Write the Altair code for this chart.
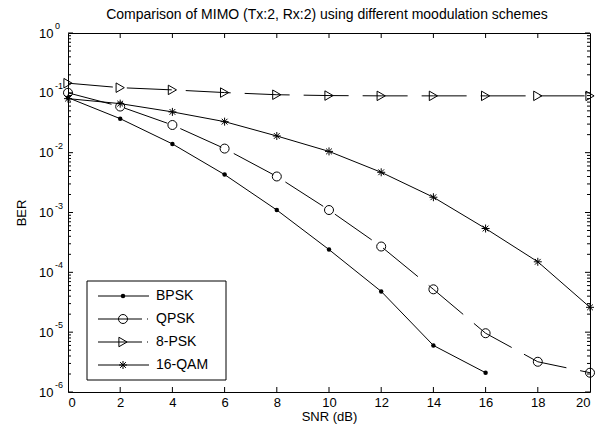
import altair as alt
import pandas as pd

# ---------------- data ----------------
snr = [0, 2, 4, 6, 8, 10, 12, 14, 16, 18, 20]
bpsk = [0.083, 0.037, 0.014, 0.0043, 0.0011, 2.4e-4, 4.8e-5, 6.0e-6, 2.1e-6]
qpsk = [0.10, 0.059, 0.029, 0.0117, 0.0040, 0.0011, 2.7e-4, 5.2e-5, 9.6e-6, 3.2e-6, 2.1e-6]
psk8 = [0.145, 0.122, 0.112, 0.101, 0.093, 0.090, 0.089, 0.089, 0.089, 0.089, 0.089]
qam16 = [0.080, 0.066, 0.048, 0.033, 0.019, 0.0105, 0.0047, 0.0018, 5.4e-4, 1.5e-4, 2.6e-5]

series_names = ["BPSK", "QPSK", "8-PSK", "16-QAM"]
series_values = [bpsk, qpsk, psk8, qam16]

y_major = [1e-6, 1e-5, 1e-4, 1e-3, 1e-2, 1e-1, 1]
y_exponents = ["-6", "-5", "-4", "-3", "-2", "-1", "0"]
y_minor = [k * m for m in [1e-6, 1e-5, 1e-4, 1e-3, 1e-2, 1e-1] for k in range(2, 10)]
x_ticks = snr[1:-1]

title_text = "Comparison of MIMO (Tx:2, Rx:2) using different moodulation schemes"

# ---------------- table ----------------
rows = []
for name, vals in zip(series_names, series_values):
    for x, v in zip(snr, vals):
        rows.append({"series": name, "snr": x, "ber": v})
df = pd.DataFrame(rows)

W, H = 522, 359
FONT = "Liberation Sans"
ASTERISK = "M-1,0H1M0,-1V1M-0.72,-0.72L0.72,0.72M-0.72,0.72L0.72,-0.72"
DASH = [45, 14]
LEG_DASH = [44, 5, 1, 5]

style = {
    "BPSK": dict(shape="circle", size=20, filled=True, dash=None),
    "QPSK": dict(shape="circle", size=81, filled=False, dash=DASH),
    "8-PSK": dict(shape="triangle-right", size=90, filled=False, dash=DASH),
    "16-QAM": dict(shape=ASTERISK, size=64, filled=False, dash=None),
}

xscale = alt.Scale(domain=[0, 20], nice=False, zero=False)
yscale = alt.Scale(type="log", domain=[1e-6, 1], nice=False)

common_axis = dict(ticks=False, domain=False, grid=False, labelFont=FONT, titleFont=FONT,
                   labelFontSize=13, titleFontSize=13, titleFontWeight="normal",
                   labelColor="black", titleColor="black")
xaxis = alt.Axis(values=snr, title="SNR (dB)", labelPadding=4, titleY=28,
                 titleBaseline="alphabetic", **common_axis)
yaxis = alt.Axis(values=y_major, labelExpr="'10'", title="BER", labelPadding=15,
                 titleX=-43, titleY=H / 2, titleAngle=270, titleAlign="center",
                 titleBaseline="alphabetic", **common_axis)


def X(field):
    return alt.X(field, type="quantitative", scale=xscale, axis=xaxis)


def Y(field):
    return alt.Y(field, type="quantitative", scale=yscale, axis=yaxis)


def point_kw(st):
    kw = dict(shape=st["shape"], size=st["size"], strokeWidth=1, opacity=1)
    if st["filled"]:
        kw.update(filled=True, color="black")
    else:
        kw.update(filled=False, stroke="black", fill="transparent")
    return kw


def line_kw(st, legend=False):
    kw = dict(color="black", strokeWidth=1)
    if st["dash"]:
        kw["strokeDash"] = LEG_DASH if legend else st["dash"]
    return kw


layers = []
for name in series_names:
    st = style[name]
    base = alt.Chart(df).transform_filter(alt.datum.series == name)
    layers.append(base.mark_line(**line_kw(st)).encode(x=X("snr"), y=Y("ber")))
    layers.append(base.mark_point(**point_kw(st)).encode(x=X("snr"), y=Y("ber")))

# inward ticks (MATLAB style)
ymaj_df = pd.DataFrame({"v": y_major, "e": y_exponents})
ymin_df = pd.DataFrame({"v": y_minor})
xt_df = pd.DataFrame({"v": x_ticks})
for dfv, ln in [(ymaj_df, 5), (ymin_df, 3)]:
    layers.append(alt.Chart(dfv).mark_rule(color="black", strokeWidth=1).encode(
        y=Y("v"), x=alt.value(0), x2=alt.value(ln)))
    layers.append(alt.Chart(dfv).mark_rule(color="black", strokeWidth=1).encode(
        y=Y("v"), x=alt.value(W - ln), x2=alt.value(W)))
layers.append(alt.Chart(xt_df).mark_rule(color="black", strokeWidth=1).encode(
    x=X("v"), y=alt.value(H - 5), y2=alt.value(H)))
layers.append(alt.Chart(xt_df).mark_rule(color="black", strokeWidth=1).encode(
    x=X("v"), y=alt.value(0), y2=alt.value(5)))

# exponents of the 10^n labels
layers.append(alt.Chart(ymaj_df).mark_text(align="left", baseline="middle", fontSize=9,
                                           font=FONT, color="black", dy=-7).encode(
    y=Y("v"), x=alt.value(-13), text="e:N"))

one = pd.DataFrame({"a": [0]})
# chart title (as text, placed above the plot area)
layers.append(alt.Chart(one).mark_text(align="center", baseline="alphabetic", fontSize=14,
                                       font=FONT, color="black", text=title_text).encode(
    x=alt.value(259), y=alt.value(-14)))

# legend box (layout positions in pixels)
layers.append(alt.Chart(one).mark_rect(fill="white", stroke="black", strokeWidth=1).encode(
    x=alt.value(19), x2=alt.value(158), y=alt.value(248), y2=alt.value(347)))
leg_y = [263, 286, 309, 332]
for name, ly in zip(series_names, leg_y):
    st = style[name]
    layers.append(alt.Chart(one).mark_rule(**line_kw(st, legend=True)).encode(
        x=alt.value(30), x2=alt.value(81), y=alt.value(ly)))
    layers.append(alt.Chart(one).mark_point(**point_kw(st)).encode(
        x=alt.value(55), y=alt.value(ly)))
    layers.append(alt.Chart(one).mark_text(align="left", baseline="middle", fontSize=14,
                                           font=FONT, color="black", text=name).encode(
        x=alt.value(88), y=alt.value(ly)))

chart = alt.layer(*layers).properties(
    width=W, height=H,
    padding={"left": 68, "top": 33, "right": 14, "bottom": 42},
    autosize="none",
    background="white",
).configure_view(stroke="black", strokeWidth=1)

chart.save("out.html", embed_options={"renderer": "svg", "actions": False})
